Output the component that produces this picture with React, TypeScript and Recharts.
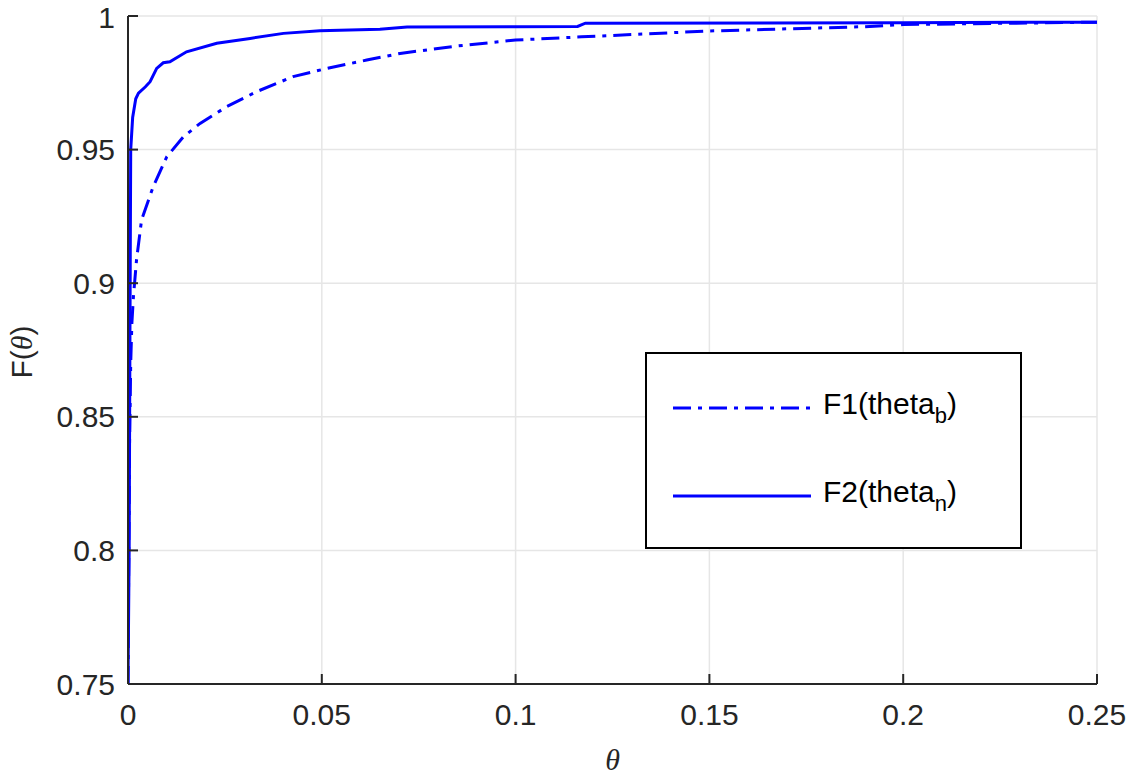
import { CartesianGrid, Line, LineChart, XAxis, YAxis } from 'recharts'

// F1(theta_b), dash-dot curve
const thetaB = [
  0, 0.0002, 0.0004, 0.0007, 0.001, 0.0014, 0.0022, 0.0035, 0.0065, 0.01, 0.0143,
  0.0186, 0.0255, 0.0332, 0.0426, 0.0513, 0.0616, 0.0702, 0.085, 0.1, 0.117, 0.15,
  0.19, 0.2, 0.25,
]
const f1Values = [
  0.75, 0.8, 0.84, 0.87, 0.885, 0.895, 0.9087, 0.9237, 0.9361, 0.9473, 0.9548,
  0.9598, 0.9661, 0.9717, 0.9773, 0.9804, 0.9835, 0.986, 0.9888, 0.991, 0.9922,
  0.9944, 0.996, 0.9968, 0.9977,
]

// F2(theta_n), solid curve
const thetaN = [
  0, 0.0003, 0.0005, 0.0007, 0.0012, 0.002, 0.0027, 0.0045, 0.0057, 0.0074, 0.0091,
  0.0108, 0.0151, 0.0229, 0.0315, 0.0401, 0.0495, 0.065, 0.072, 0.1, 0.116, 0.118,
  0.2, 0.25,
]
const f2Values = [
  0.75, 0.8, 0.88, 0.95, 0.962, 0.969, 0.9711, 0.9735, 0.9754, 0.9804, 0.9825,
  0.9829, 0.9866, 0.9898, 0.9916, 0.9935, 0.9945, 0.995, 0.9959, 0.996, 0.9961,
  0.9973, 0.9975, 0.9977,
]

const xTicks = [0, 0.05, 0.1, 0.15, 0.2, 0.25]
const xTickLabels = ['0', '0.05', '0.1', '0.15', '0.2', '0.25']
const yTicks = [0.75, 0.8, 0.85, 0.9, 0.95, 1]
const yTickLabels = ['0.75', '0.8', '0.85', '0.9', '0.95', '1']

const f1Data = thetaB.map((x, i) => ({ x, y: f1Values[i] }))
const f2Data = thetaN.map((x, i) => ({ x, y: f2Values[i] }))

const INK = '#262626'
const BLUE = '#0000ff'
const SANS = '"Liberation Sans", Arial, Helvetica, sans-serif'
const SERIF = '"Liberation Serif", "DejaVu Serif", serif'
const tickStyle = { fill: INK, fontSize: 30, fontFamily: SANS }

function LegendBox() {
  const entry = (dash: string | undefined, name: string, sub: string) => (
    <div style={{ display: 'flex', alignItems: 'center', height: 44 }}>
      <svg width={150} height={10} style={{ marginLeft: 26 }}>
        <line x1={0} y1={5} x2={138} y2={5} stroke={BLUE} strokeWidth={3} strokeDasharray={dash} />
      </svg>
      <span style={{ fontFamily: SANS, fontSize: 30, color: '#000' }}>
        {name}
        <sub style={{ fontSize: 22, verticalAlign: '-0.4em' }}>{sub}</sub>)
      </span>
    </div>
  )
  return (
    <div
      style={{
        position: 'absolute',
        left: 645,
        top: 352,
        width: 377,
        height: 197,
        border: '2px solid #000',
        background: '#fff',
        boxSizing: 'border-box',
        paddingTop: 32,
        display: 'flex',
        flexDirection: 'column',
        gap: 44,
      }}
    >
      {entry('18 7 4 7', 'F1(theta', 'b')}
      {entry(undefined, 'F2(theta', 'n')}
    </div>
  )
}

export default function App() {
  return (
    <div style={{ margin: -8, width: 1136, height: 780, background: '#fff', position: 'relative' }}>
      <LineChart width={1136} height={780} margin={{ top: 16, right: 39, left: 0, bottom: 36 }}>
        <CartesianGrid stroke="#e6e6e6" strokeWidth={1.5} />
        <XAxis
          type="number"
          dataKey="x"
          domain={[0, 0.25]}
          ticks={xTicks}
          tickFormatter={(v: number) => xTickLabels[xTicks.indexOf(v)] ?? String(v)}
          allowDataOverflow
          height={60}
          tickSize={-10}
          tickMargin={30}
          tick={tickStyle}
          axisLine={{ stroke: INK, strokeWidth: 2 }}
          tickLine={{ stroke: INK, strokeWidth: 2 }}
          label={{
            value: 'θ',
            position: 'insideBottom',
            offset: -26,
            style: { fill: INK, fontSize: 30, fontFamily: SERIF, fontStyle: 'italic' },
          }}
        />
        <XAxis
          xAxisId="top"
          orientation="top"
          type="number"
          dataKey="x"
          domain={[0, 0.25]}
          ticks={xTicks}
          height={0}
          tick={false}
          tickSize={-10}
          axisLine={{ stroke: INK, strokeWidth: 2 }}
          tickLine={{ stroke: INK, strokeWidth: 2 }}
        />
        <YAxis
          type="number"
          domain={[0.75, 1]}
          ticks={yTicks}
          tickFormatter={(v: number) => yTickLabels[yTicks.indexOf(v)] ?? String(v)}
          allowDataOverflow
          width={128}
          tickSize={-10}
          tickMargin={23}
          tick={tickStyle}
          axisLine={{ stroke: INK, strokeWidth: 2 }}
          tickLine={{ stroke: INK, strokeWidth: 2 }}
          label={{
            content: () => (
              <text
                x={32}
                y={352}
                transform="rotate(-90 32 352)"
                textAnchor="middle"
                fill={INK}
                fontSize={30}
                fontFamily={SANS}
              >
                F(
                <tspan fontFamily={SERIF} fontStyle="italic">
                  θ
                </tspan>
                )
              </text>
            ),
          }}
        />
        <YAxis
          yAxisId="right"
          orientation="right"
          type="number"
          domain={[0.75, 1]}
          ticks={yTicks}
          width={0}
          tick={false}
          tickSize={-10}
          axisLine={{ stroke: INK, strokeWidth: 2 }}
          tickLine={{ stroke: INK, strokeWidth: 2 }}
        />
        <Line
          data={f1Data}
          dataKey="y"
          type="linear"
          stroke={BLUE}
          strokeWidth={3}
          strokeDasharray="18 7 4 7"
          dot={false}
          isAnimationActive={false}
          name="F1"
        />
        <Line
          data={f2Data}
          dataKey="y"
          type="linear"
          stroke={BLUE}
          strokeWidth={3}
          dot={false}
          isAnimationActive={false}
          name="F2"
        />
      </LineChart>
      <LegendBox />
    </div>
  )
}
